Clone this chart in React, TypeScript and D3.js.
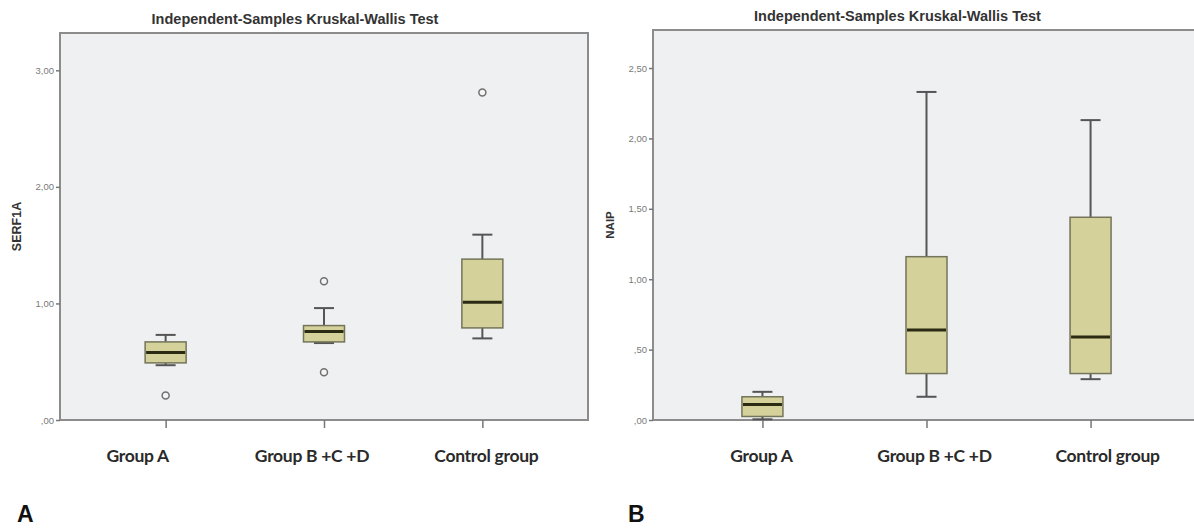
import * as d3 from "d3"
import React, { useEffect, useRef } from "react"

// categories on the x axis
const groups = ["Group A", "Group B +C +D", "Control group"]

// panel A: SERF1A
const serfLow = [0.47, 0.66, 0.70]
const serfQ1 = [0.49, 0.67, 0.79]
const serfMedian = [0.58, 0.76, 1.01]
const serfQ3 = [0.67, 0.81, 1.38]
const serfHigh = [0.73, 0.96, 1.59]
const serfOutliers = [[0.21], [1.19, 0.41], [2.81]]
const serfTicks = [0, 1, 2, 3]

// panel B: NAIP
const naipLow = [0.005, 0.165, 0.29]
const naipQ1 = [0.025, 0.33, 0.33]
const naipMedian = [0.11, 0.64, 0.59]
const naipQ3 = [0.165, 1.16, 1.44]
const naipHigh = [0.20, 2.33, 2.13]
const naipOutliers = [[], [], []]
const naipTicks = [0, 0.5, 1, 1.5, 2, 2.5]

const title = "Independent-Samples Kruskal-Wallis Test"

// comma decimal like SPSS (",50", "1,00")
const fmt = (v: number) => {
  const s = v.toFixed(2).replace(".", ",")
  return s.startsWith("0") ? s.slice(1) : s
}

type Panel = {
  letter: string
  yLabel: string
  yLabelSize: number
  left: number
  right: number
  top: number
  bottom: number
  yMax: number
  ticks: number[]
  low: number[]
  q1: number[]
  median: number[]
  q3: number[]
  high: number[]
  outliers: number[][]
  labelShift: number[]
  letterX: number
}

const panels: Panel[] = [
  {
    letter: "A", yLabel: "SERF1A", yLabelSize: 12.5,
    left: 60, right: 588, top: 33, bottom: 420, yMax: 3.32,
    ticks: serfTicks,
    low: serfLow, q1: serfQ1, median: serfMedian, q3: serfQ3, high: serfHigh,
    outliers: serfOutliers,
    labelShift: [-28, -12, 4],
    letterX: 17
  },
  {
    letter: "B", yLabel: "NAIP", yLabelSize: 11.5,
    left: 653, right: 1200, top: 30, bottom: 420, yMax: 2.77,
    ticks: naipTicks,
    low: naipLow, q1: naipQ1, median: naipMedian, q3: naipQ3, high: naipHigh,
    outliers: naipOutliers,
    labelShift: [-1, 8, 17],
    letterX: 628
  }
]

const drawPanel = (svg: any, p: Panel) => {
  const x = d3.scalePoint().domain(groups).range([p.left, p.right]).padding(0.667)
  const y = d3.scaleLinear().domain([0, p.yMax]).range([p.bottom, p.top])
  const g = svg.append("g")

  // plot area
  g.append("rect")
    .attr("x", p.left).attr("y", p.top)
    .attr("width", p.right - p.left).attr("height", p.bottom - p.top)
    .attr("fill", "#eff0f2")
    .attr("stroke", "#8c8c8c")
    .attr("stroke-width", 2)

  // title
  g.append("text")
    .attr("x", (p.left + p.right) / 2 - 29)
    .attr("y", p.top - 9)
    .attr("text-anchor", "middle")
    .attr("font-family", "Liberation Sans, Arial, sans-serif")
    .attr("font-weight", "bold")
    .attr("font-size", 14.5)
    .attr("fill", "#333")
    .text(title)

  // y axis
  const yAxis = d3.axisLeft(y).tickValues(p.ticks).tickSize(4).tickPadding(2).tickFormat((d: any) => fmt(d))
  const ya = g.append("g").attr("transform", `translate(${p.left},0)`).call(yAxis)
  ya.select(".domain").remove()
  ya.selectAll("line").attr("stroke", "#777").attr("stroke-width", 1.5)
  ya.selectAll("text")
    .attr("font-family", "Liberation Sans, Arial, sans-serif")
    .attr("font-size", 9.5)
    .attr("fill", "#7a7a7a")

  g.append("text")
    .attr("transform", `translate(${p.left - 39},${(p.top + p.bottom) / 2}) rotate(-90)`)
    .attr("text-anchor", "middle")
    .attr("font-family", "Liberation Sans, Arial, sans-serif")
    .attr("font-weight", "bold")
    .attr("font-size", p.yLabelSize)
    .attr("fill", "#333")
    .text(p.yLabel)

  // x axis ticks and labels
  const xAxis = d3.axisBottom(x).tickSize(8).tickFormat(() => "")
  const xa = g.append("g").attr("transform", `translate(0,${p.bottom})`).call(xAxis)
  xa.select(".domain").remove()
  xa.selectAll("line").attr("stroke", "#777").attr("stroke-width", 1.5)

  g.selectAll("text.cat")
    .data(groups)
    .enter()
    .append("text")
    .attr("class", "cat")
    .attr("x", (d: string, i: number) => (x(d) as number) + p.labelShift[i])
    .attr("y", p.bottom + 42)
    .attr("text-anchor", "middle")
    .attr("font-family", "Lato, Open Sans, sans-serif")
    .attr("font-weight", "bold")
    .attr("font-size", 17.5)
    .attr("letter-spacing", -0.3)
    .attr("fill", "#2a2a2a")
    .text((d: string) => d)

  const boxW = 41
  const capW = 20
  const boxes = g.selectAll("g.box")
    .data(groups)
    .enter()
    .append("g")
    .attr("class", "box")

  // whisker stems
  boxes.append("line")
    .attr("x1", (d: string) => x(d)).attr("x2", (d: string) => x(d))
    .attr("y1", (_d: string, i: number) => y(p.high[i]))
    .attr("y2", (_d: string, i: number) => y(p.q3[i]))
    .attr("stroke", "#555").attr("stroke-width", 2)
  boxes.append("line")
    .attr("x1", (d: string) => x(d)).attr("x2", (d: string) => x(d))
    .attr("y1", (_d: string, i: number) => y(p.low[i]))
    .attr("y2", (_d: string, i: number) => y(p.q1[i]))
    .attr("stroke", "#555").attr("stroke-width", 2)
  // caps
  boxes.append("line")
    .attr("x1", (d: string) => (x(d) as number) - capW / 2)
    .attr("x2", (d: string) => (x(d) as number) + capW / 2)
    .attr("y1", (_d: string, i: number) => y(p.high[i]))
    .attr("y2", (_d: string, i: number) => y(p.high[i]))
    .attr("stroke", "#555").attr("stroke-width", 2)
  boxes.append("line")
    .attr("x1", (d: string) => (x(d) as number) - capW / 2)
    .attr("x2", (d: string) => (x(d) as number) + capW / 2)
    .attr("y1", (_d: string, i: number) => y(p.low[i]))
    .attr("y2", (_d: string, i: number) => y(p.low[i]))
    .attr("stroke", "#555").attr("stroke-width", 2)
  // box
  boxes.append("rect")
    .attr("x", (d: string) => (x(d) as number) - boxW / 2)
    .attr("width", boxW)
    .attr("y", (_d: string, i: number) => y(p.q3[i]))
    .attr("height", (_d: string, i: number) => y(p.q1[i]) - y(p.q3[i]))
    .attr("fill", "#d5d19b")
    .attr("stroke", "#74745a")
    .attr("stroke-width", 1.5)
  // median
  boxes.append("line")
    .attr("x1", (d: string) => (x(d) as number) - boxW / 2 + 1)
    .attr("x2", (d: string) => (x(d) as number) + boxW / 2 - 1)
    .attr("y1", (_d: string, i: number) => y(p.median[i]))
    .attr("y2", (_d: string, i: number) => y(p.median[i]))
    .attr("stroke", "#2b2a12").attr("stroke-width", 3)
  // outliers
  boxes.selectAll("circle")
    .data((d: string, i: number) => p.outliers[i].map(v => ({ g: d, v })))
    .enter()
    .append("circle")
    .attr("cx", (o: any) => x(o.g))
    .attr("cy", (o: any) => y(o.v))
    .attr("r", 3.5)
    .attr("fill", "#f4f4f4")
    .attr("stroke", "#707070")
    .attr("stroke-width", 1.5)

  // panel letter
  g.append("text")
    .attr("x", p.letterX)
    .attr("y", 522)
    .attr("font-family", "Liberation Sans, Arial, sans-serif")
    .attr("font-weight", "bold")
    .attr("font-size", 23)
    .attr("fill", "#111")
    .text(p.letter)
}

export default function App() {
  const ref = useRef<SVGSVGElement>(null)

  useEffect(() => {
    const svg = d3.select(ref.current)
    svg.selectAll("*").remove()
    panels.forEach(p => drawPanel(svg, p))
  }, [])

  return (
    <svg
      ref={ref}
      width={1194}
      height={528}
      style={{ position: "absolute", left: 0, top: 0, background: "#fff" }}
    />
  )
}
